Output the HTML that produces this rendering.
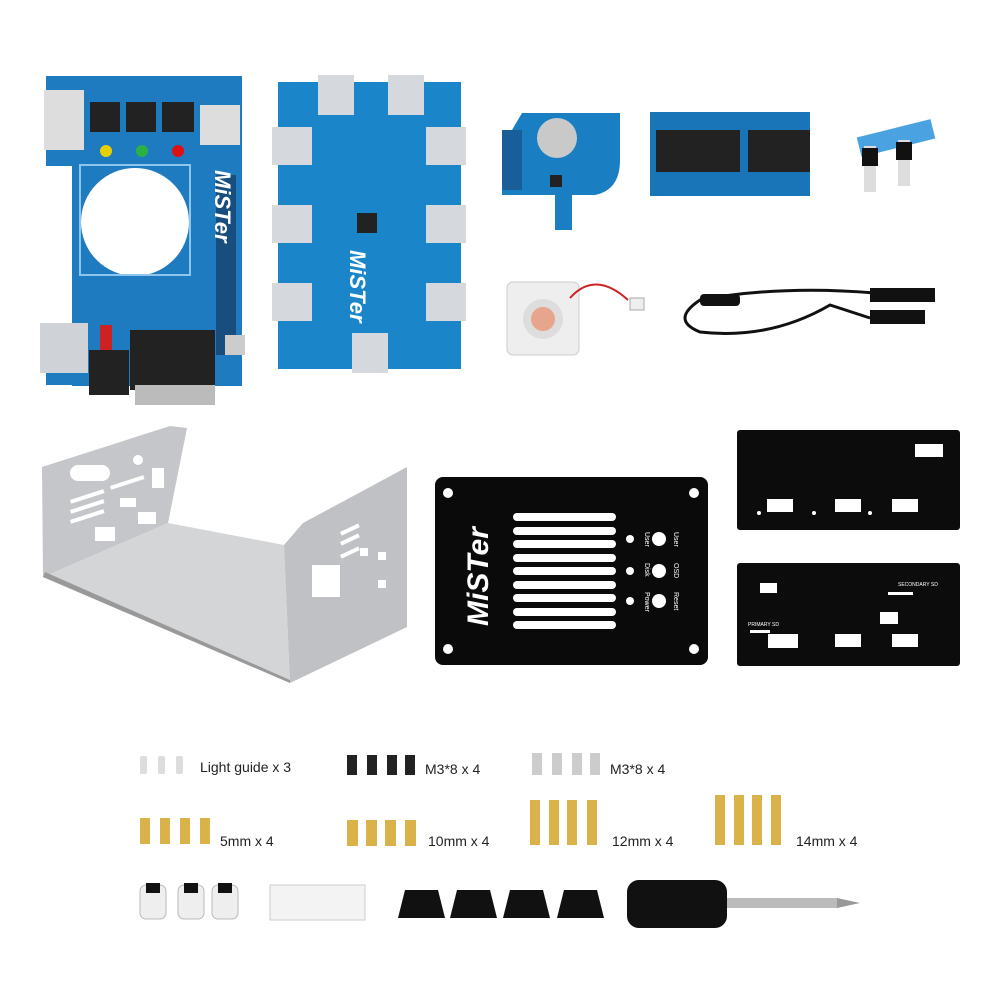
<!DOCTYPE html><html><head><style>html,body{margin:0;padding:0;background:#fff}svg{display:block}text{font-family:"Liberation Sans",sans-serif}</style></head><body>
<svg width="1000" height="1000" viewBox="0 0 1000 1000" xmlns="http://www.w3.org/2000/svg">
<!-- Board 1 -->
<path d="M46 76 H242 V386 H72 V385 H46 V335 H72 V166 H46 Z" fill="#1f7bbf"/>
<rect x="44" y="90" width="40" height="60" fill="#ddd"/>
<circle cx="135" cy="222" r="54" fill="#fff"/>
<rect x="80" y="165" width="110" height="110" fill="none" stroke="#8cc6ef" stroke-width="2"/>
<g fill="#222"><rect x="90" y="102" width="30" height="30"/><rect x="126" y="102" width="30" height="30"/><rect x="162" y="102" width="32" height="30"/></g>
<circle cx="106" cy="151" r="6" fill="#e7d100"/><circle cx="142" cy="151" r="6" fill="#2bb143"/><circle cx="178" cy="151" r="6" fill="#d11"/>
<rect x="200" y="105" width="40" height="40" fill="#ddd"/>
<rect x="216" y="175" width="20" height="180" fill="#174e7d"/>
<rect x="40" y="323" width="48" height="50" fill="#cfd3d8"/>
<rect x="89" y="350" width="40" height="45" fill="#222"/>
<rect x="100" y="325" width="12" height="25" fill="#c22"/>
<rect x="130" y="330" width="85" height="60" fill="#222"/>
<rect x="135" y="385" width="80" height="20" fill="#bbb"/>
<rect x="225" y="335" width="20" height="20" fill="#ccc"/>
<!-- Board 2 -->
<rect x="278" y="82" width="183" height="287" fill="#1a86c9"/>
<g fill="#d5d8dc"><rect x="318" y="75" width="36" height="40"/><rect x="388" y="75" width="36" height="40"/>
<rect x="272" y="127" width="40" height="38"/><rect x="272" y="205" width="40" height="38"/><rect x="272" y="283" width="40" height="38"/>
<rect x="426" y="127" width="40" height="38"/><rect x="426" y="205" width="40" height="38"/><rect x="426" y="283" width="40" height="38"/>
<rect x="352" y="333" width="36" height="40"/></g>
<rect x="357" y="213" width="20" height="20" fill="#222"/>
<text x="350" y="250" transform="rotate(90 350 250)" font-size="22" font-weight="bold" font-style="italic" fill="#fff">MiSTer</text>
<text x="215" y="170" transform="rotate(90 215 170)" font-size="22" font-weight="bold" font-style="italic" fill="#fff">MiSTer</text>
<!-- RTC -->
<path d="M502 130 L512 130 L522 113 H620 V160 Q620 190 595 195 H572 V230 H555 V195 H502 Z" fill="#1a7fc2"/>
<rect x="502" y="130" width="20" height="60" fill="#1a5e99"/>
<circle cx="557" cy="138" r="20" fill="#c9c9c9"/>
<rect x="550" y="175" width="12" height="12" fill="#222"/>
<!-- SDRAM -->
<rect x="650" y="112" width="160" height="84" fill="#1a74b8"/>
<rect x="656" y="130" width="84" height="42" fill="#222"/><rect x="750" y="130" width="84" height="42" fill="#222" transform="translate(-2 0) scale(1)"/>
<rect x="810" y="110" width="30" height="90" fill="#fff"/>
<!-- small -->
<rect x="858" y="128" width="76" height="20" fill="#4aa3e0" transform="rotate(-14 896 138)"/>
<rect x="864" y="146" width="12" height="46" fill="#ddd"/><rect x="898" y="140" width="12" height="46" fill="#ddd"/>
<rect x="862" y="148" width="16" height="18" fill="#111"/><rect x="896" y="142" width="16" height="18" fill="#111"/>
<!-- fan -->
<rect x="507" y="282" width="72" height="73" rx="6" fill="#eeeeee" stroke="#ccc"/>
<circle cx="543" cy="319" r="20" fill="#ddd"/><circle cx="543" cy="319" r="12" fill="#e7a58b"/>
<path d="M570 298 Q595 270 628 300" stroke="#c22" stroke-width="2" fill="none"/><rect x="630" y="298" width="14" height="12" fill="#eee" stroke="#aaa"/>
<!-- cable -->
<path d="M875 293 Q780 285 700 300 Q670 320 700 332 Q770 340 830 305 L870 318" stroke="#111" stroke-width="3" fill="none"/>
<rect x="700" y="294" width="40" height="12" rx="4" fill="#111"/>
<rect x="870" y="288" width="65" height="14" fill="#111"/><rect x="870" y="310" width="55" height="14" fill="#111"/>
<!-- silver case -->
<path d="M168 523 L284 545 L290 683 L43 577 Z" fill="#d4d5d7"/>
<path d="M42 467 L170 426 L187 428 L168 523 L43 577 Z" fill="#c4c6c9"/>
<path d="M284 545 L303 523 L407 467 L407 627 L290 683 Z" fill="#bfc1c4"/>
<path d="M43 577 L290 683 L290 680 L45 572 Z" fill="#999"/>
<g fill="#fff"><rect x="70" y="465" width="40" height="16" rx="8"/><circle cx="138" cy="460" r="5"/><rect x="152" y="468" width="12" height="20"/>
<rect x="70" y="500" width="35" height="4" transform="rotate(-18 70 500)"/><rect x="70" y="510" width="35" height="4" transform="rotate(-18 70 510)"/><rect x="70" y="520" width="35" height="4" transform="rotate(-18 70 520)"/>
<rect x="110" y="486" width="35" height="4" transform="rotate(-18 110 486)"/><rect x="120" y="498" width="16" height="9"/><rect x="95" y="527" width="20" height="14"/><rect x="138" y="512" width="18" height="12"/>
<rect x="312" y="565" width="28" height="32"/><rect x="340" y="532" width="20" height="4" transform="rotate(-25 340 532)"/><rect x="340" y="542" width="20" height="4" transform="rotate(-25 340 542)"/><rect x="340" y="555" width="20" height="4" transform="rotate(-25 340 555)"/><rect x="360" y="548" width="8" height="8"/><rect x="378" y="552" width="8" height="8"/><rect x="378" y="580" width="8" height="8"/></g>
<!-- black plate -->
<rect x="435" y="477" width="273" height="188" rx="8" fill="#0a0a0a"/>
<g fill="#fff"><circle cx="448" cy="493" r="5"/><circle cx="694" cy="493" r="5"/><circle cx="448" cy="649" r="5"/><circle cx="694" cy="649" r="5"/>
<rect x="513" y="513" width="103" height="8" rx="4"/><rect x="513" y="527" width="103" height="8" rx="4"/><rect x="513" y="540" width="103" height="8" rx="4"/><rect x="513" y="554" width="103" height="8" rx="4"/><rect x="513" y="567" width="103" height="8" rx="4"/><rect x="513" y="581" width="103" height="8" rx="4"/><rect x="513" y="594" width="103" height="8" rx="4"/><rect x="513" y="608" width="103" height="8" rx="4"/><rect x="513" y="621" width="103" height="8" rx="4"/>
<circle cx="630" cy="539" r="4"/><circle cx="630" cy="571" r="4"/><circle cx="630" cy="601" r="4"/><circle cx="659" cy="539" r="7"/><circle cx="659" cy="571" r="7"/><circle cx="659" cy="601" r="7"/></g>
<text x="488" y="626" transform="rotate(-90 488 626)" font-size="30" font-weight="bold" font-style="italic" fill="#fff">MiSTer</text>
<g fill="#fff" font-size="7"><text x="645" y="532" transform="rotate(90 645 532)">User</text><text x="645" y="563" transform="rotate(90 645 563)">Disk</text><text x="645" y="592" transform="rotate(90 645 592)">Power</text><text x="674" y="532" transform="rotate(90 674 532)">User</text><text x="674" y="563" transform="rotate(90 674 563)">OSD</text><text x="674" y="592" transform="rotate(90 674 592)">Reset</text></g>
<!-- panels -->
<rect x="737" y="430" width="223" height="100" rx="3" fill="#0c0c0c"/>
<g fill="#fff"><rect x="915" y="444" width="28" height="13"/><rect x="767" y="499" width="26" height="13"/><rect x="835" y="499" width="26" height="13"/><rect x="892" y="499" width="26" height="13"/><circle cx="759" cy="513" r="2"/><circle cx="814" cy="513" r="2"/><circle cx="870" cy="513" r="2"/></g>
<rect x="737" y="563" width="223" height="103" rx="3" fill="#0c0c0c"/>
<g fill="#fff"><rect x="760" y="583" width="17" height="10"/><rect x="888" y="592" width="25" height="3"/><rect x="880" y="612" width="18" height="12"/><rect x="768" y="634" width="30" height="14"/><rect x="835" y="634" width="26" height="13"/><rect x="892" y="634" width="26" height="13"/><rect x="750" y="630" width="20" height="3"/>
<text x="898" y="586" font-size="5">SECONDARY SD</text><text x="748" y="626" font-size="5">PRIMARY SD</text></g>
<!-- parts -->
<g fill="#ddd"><rect x="140" y="756" width="7" height="18" rx="2"/><rect x="158" y="756" width="7" height="18" rx="2"/><rect x="176" y="756" width="7" height="18" rx="2"/></g>
<g fill="#222"><rect x="347" y="755" width="10" height="20"/><rect x="367" y="755" width="10" height="20"/><rect x="387" y="755" width="10" height="20"/><rect x="405" y="755" width="10" height="20"/></g>
<g fill="#ccc"><rect x="532" y="753" width="10" height="22"/><rect x="552" y="753" width="10" height="22"/><rect x="572" y="753" width="10" height="22"/><rect x="590" y="753" width="10" height="22"/></g>
<g fill="#d9b24a"><rect x="140" y="818" width="10" height="26"/><rect x="160" y="818" width="10" height="26"/><rect x="180" y="818" width="10" height="26"/><rect x="200" y="818" width="10" height="26"/>
<rect x="347" y="820" width="11" height="26"/><rect x="366" y="820" width="11" height="26"/><rect x="385" y="820" width="11" height="26"/><rect x="405" y="820" width="11" height="26"/>
<rect x="530" y="800" width="10" height="45"/><rect x="549" y="800" width="10" height="45"/><rect x="567" y="800" width="10" height="45"/><rect x="587" y="800" width="10" height="45"/>
<rect x="715" y="795" width="10" height="50"/><rect x="734" y="795" width="10" height="50"/><rect x="752" y="795" width="10" height="50"/><rect x="771" y="795" width="10" height="50"/></g>
<g fill="#222" font-size="14"><text x="200" y="772">Light guide x 3</text><text x="425" y="774">M3*8 x 4</text><text x="610" y="774">M3*8 x 4</text><text x="220" y="846">5mm x 4</text><text x="428" y="846">10mm x 4</text><text x="612" y="846">12mm x 4</text><text x="796" y="846">14mm x 4</text></g>
<g><rect x="140" y="885" width="26" height="34" rx="6" fill="#eee" stroke="#bbb"/><rect x="146" y="883" width="14" height="10" fill="#111"/>
<rect x="178" y="885" width="26" height="34" rx="6" fill="#eee" stroke="#bbb"/><rect x="184" y="883" width="14" height="10" fill="#111"/>
<rect x="212" y="885" width="26" height="34" rx="6" fill="#eee" stroke="#bbb"/><rect x="218" y="883" width="14" height="10" fill="#111"/></g>
<rect x="270" y="885" width="95" height="35" fill="#f3f3f3" stroke="#ccc"/>
<g fill="#111"><path d="M398 918 L405 890 H438 L445 918 Z"/><path d="M450 918 L457 890 H490 L497 918 Z"/><path d="M503 918 L510 890 H543 L550 918 Z"/><path d="M557 918 L564 890 H597 L604 918 Z"/></g>
<rect x="627" y="880" width="100" height="48" rx="12" fill="#111"/>
<rect x="727" y="898" width="110" height="10" fill="#bbb"/><path d="M837 898 L860 903 L837 908 Z" fill="#999"/>
</svg></body></html>
